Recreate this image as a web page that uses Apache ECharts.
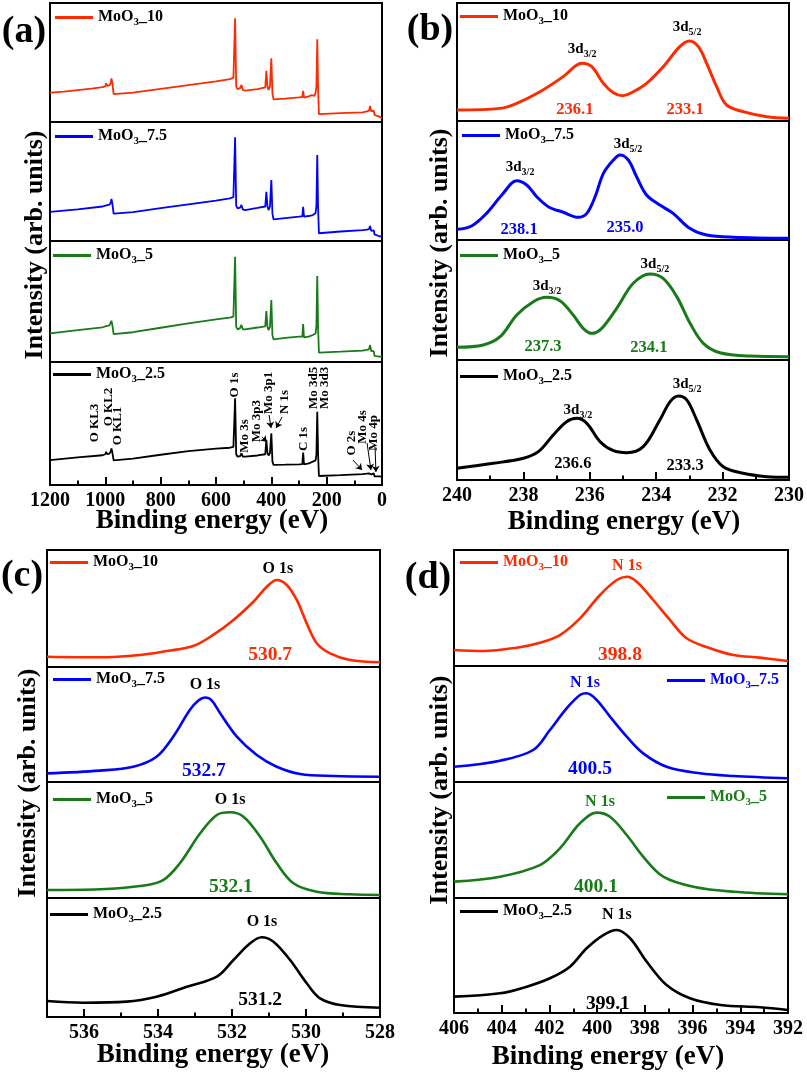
<!DOCTYPE html>
<html>
<head>
<meta charset="utf-8">
<script src="https://cdn.jsdelivr.net/npm/echarts@6/dist/echarts.min.js"></script>
<style>
    html, body { margin: 0; padding: 0; background: #fff; }
    #chart { width: 807px; height: 1072px; }
</style>
</head>
<body>
<div id="chart"></div>
<script>
    // ---- data (binding energy eV, intensity 0-100 per sub-plot) ----
    const samples = ['10', '7.5', '5', '2.5'];

    const surveyRed = [[1200,24.6],[1150,25.6],[1100,26.8],[1050,28],[1010,29.3],[1000,30],[997,32.5],[993,30.3],[985,30.8],[980,33],[978,36.7],[975,33.5],[970,23.5],[965,22.7],[900,24.6],[800,27.8],[700,31],[600,34.2],[550,36],[537,37],[531,87.1],[527,30],[522,27.5],[513,28.5],[508,31.1],[503,27],[495,26.3],[450,27.6],[422,29],[418,43.1],[414,30],[410,27],[405,30],[400,53.5],[396,24],[392,19],[350,19.6],[300,20.7],[288,21],[285,26.1],[282,20.4],[265,21.5],[255,22.5],[248,23.5],[244,22],[240,24.5],[237,30],[234,69.5],[231,28],[228,6.7],[150,7.5],[70,8.1],[55,9],[47,9.5],[43,13.4],[39,9],[35,8],[30,9.5],[27,6],[20,5.5],[10,4.5],[0,3.1]];
    const surveyBlue = [[1200,24.4],[1100,26.5],[1010,29],[1000,29.8],[997,31.1],[993,29.8],[985,30.5],[980,32.5],[978,35.3],[975,32],[970,23],[965,22.4],[900,24.3],[800,27.6],[700,30.8],[600,34],[550,35.9],[537,36.8],[531,87.1],[527,29.5],[522,27.5],[513,28],[508,30.3],[503,26.5],[495,26],[450,27.8],[422,29],[418,41.4],[414,29],[410,26],[405,29],[400,51.3],[396,23],[392,18.2],[350,19.3],[300,20.4],[288,20.8],[285,28.8],[282,20.5],[265,21],[250,21.8],[244,21],[240,23.5],[237,30],[234,72.3],[231,28],[228,6.5],[150,8],[70,9.2],[55,9.5],[47,10],[43,12.6],[39,8.5],[35,7.5],[30,9],[27,5.5],[20,5],[10,4],[0,3.6]];
    const surveyGreen = [[1200,23.7],[1100,26.3],[1010,28.7],[1000,29.5],[997,31],[993,29.5],[985,30.2],[980,31.5],[978,34.1],[975,31],[970,23],[965,22.3],[900,24.6],[800,28.3],[700,32],[600,35.3],[550,36.7],[537,37.5],[531,87],[527,29],[522,27],[513,28],[508,30.6],[503,27],[495,27],[450,28.5],[422,29.5],[418,42.1],[414,29],[410,26.4],[405,29],[400,51.2],[396,22],[392,18.7],[350,20],[300,20.9],[288,21],[285,31.4],[282,20.3],[265,21],[250,22.3],[244,21.5],[240,23.5],[237,30],[234,71],[231,28],[228,7.7],[150,8.5],[70,9.4],[55,10],[47,10.5],[43,14],[39,9],[35,8],[30,9],[27,5],[20,5],[10,4.5],[0,4.4]];
    const surveyBlack = [[1200,20.3],[1100,22.5],[1010,24.2],[1000,25],[997,27],[993,25],[985,25.5],[980,27.5],[978,29.8],[975,27],[970,20],[965,19.5],[900,21.5],[800,24.6],[700,27.5],[600,29.5],[550,30.3],[537,31],[531,70.5],[527,25],[522,23],[513,23.5],[508,25.7],[503,23],[495,23],[450,24],[422,25],[418,36.6],[414,26],[410,24],[405,26],[400,42],[396,19],[392,16.3],[350,16.5],[300,16.8],[288,17],[285,26.3],[282,16.8],[265,17.5],[250,19],[244,18.5],[240,20],[237,25],[234,59.6],[231,25],[228,7.3],[150,8],[70,8.9],[55,9.2],[47,9.5],[43,10.5],[39,8.5],[35,8],[30,9.5],[27,7],[20,7],[10,7],[0,6.8]];

    const mo3dRed = [[240,9.3],[238.7,10.7],[238.2,15],[237.5,24.8],[236.8,37.6],[236.24,48.9],[235.94,46],[235.59,31.9],[235.29,24],[235.01,21.5],[234.69,24.8],[234.29,31.9],[233.79,46],[233.29,63],[233.0,67.8],[232.73,63],[232.48,48.9],[232.18,29.1],[231.88,13.6],[231.38,7.9],[230.67,3.6],[230,2.3]];
    const mo3dBlue = [[240,9],[239.56,11.8],[239.11,22.4],[238.65,37.8],[238.2,49.8],[237.9,46.2],[237.6,36.4],[237.25,28],[236.8,23.3],[236.35,19.1],[236.09,22.4],[235.84,36.4],[235.59,56],[235.29,67.2],[235.09,71.4],[234.84,67.2],[234.59,53.2],[234.29,37.8],[233.89,29.4],[233.49,22.4],[232.99,9.8],[232.48,4.2],[231.68,2.3],[230,1.4]];
    const mo3dGreen = [[240,10.6],[239.21,12.5],[238.7,19.4],[238.2,37.5],[237.7,48.6],[237.3,52.2],[236.9,49.4],[236.5,37.5],[236.2,26.4],[235.94,22.2],[235.64,26.4],[235.19,43.1],[234.69,63.9],[234.19,71.7],[233.79,68],[233.38,52.8],[232.98,30.6],[232.58,13.9],[232.08,6.1],[231.17,3.3],[230,2.8]];
    const mo3dBlack = [[240,9.7],[238.91,13.9],[238.0,18.1],[237.55,23.6],[237.1,37.5],[236.7,48.6],[236.39,51.4],[236.09,47.2],[235.69,31.9],[235.29,24.4],[234.89,22.8],[234.39,27.8],[233.89,50],[233.58,65.3],[233.33,70],[233.08,66.7],[232.78,50],[232.38,25],[231.98,11.1],[231.38,5.6],[230.67,2.8],[230,2.2]];

    const o1sRed = [[537,8.8],[535.57,8.3],[534.49,10.3],[533.76,13.7],[533.05,17.9],[532.51,27.4],[531.96,40.2],[531.42,55.8],[531.06,68.6],[530.79,74.4],[530.52,70.1],[530.25,57.3],[529.98,37.3],[529.71,20.3],[529.35,11.7],[528.81,6],[528,4]];
    const o1sBlue = [[537,7.5],[535.57,9.9],[534.67,13.3],[534.04,22],[533.59,39.4],[533.14,62.6],[532.9,71],[532.73,73.5],[532.55,71],[532.32,59.7],[531.87,39.4],[531.33,23.5],[530.79,13.3],[530.16,7],[529.26,5.2],[528,4.6]];
    const o1sGreen = [[537,6.9],[535.57,7.5],[534.49,10.3],[533.86,15.5],[533.41,29.9],[532.86,55.8],[532.41,71.6],[532.05,73.9],[531.69,70.1],[531.24,52.8],[530.79,29.9],[530.34,12.7],[529.71,5.4],[528.81,3.2],[528,2.6]];
    const o1sBlack = [[537,13.4],[536.02,12],[534.85,12.9],[534.04,17.1],[533.22,25.5],[532.41,33.9],[531.96,47.9],[531.51,61.9],[531.2,67],[530.88,63.3],[530.43,47.9],[529.98,28.3],[529.62,15.7],[529.08,10.1],[528,7.8]];

    const n1sRed = [[406,13.8],[404.77,12.9],[403.37,15.8],[402.4,20.1],[401.56,26.7],[400.72,41.1],[399.88,61.2],[399.18,74.1],[398.76,77],[398.34,72.7],[397.65,56.9],[396.95,39.7],[396.25,23.9],[395.27,15.3],[394.29,9.5],[393.18,7.2],[392,4.3]];
    const n1sBlue = [[406,13.2],[404.07,18.4],[402.68,27.6],[401.98,44.8],[401.28,63.5],[400.72,75],[400.44,76.5],[400.02,70.7],[399.46,56.3],[398.76,39.1],[398.07,24.7],[397.09,13.2],[395.69,7.5],[394.29,5.2],[392,3.2]];
    const n1sGreen = [[406,14.1],[404.07,18.4],[402.4,28.4],[401.56,42.8],[400.72,64.4],[400.02,73.6],[399.46,70.1],[398.76,54.3],[398.07,35.6],[397.23,18.4],[395.97,9.7],[394.29,5.4],[392,3.2]];
    const n1sBlack = [[406,14.2],[404.07,17.1],[402.95,22.9],[401.98,30.2],[401.14,40.3],[400.44,56.3],[399.74,67.8],[399.18,72.2],[398.62,65],[397.92,44.6],[397.09,24.3],[396.11,12.8],[394.83,7],[393.18,5],[392,2.6]];

    // peak tags [sample, eV, intensity, text]
    const surveyTags = [['O KL3',1037,50.4],['O KL2',987,63.4],['O KL1',954,48],['O 1s',531,81.3],['Mo 3s',495,39.8],['Mo 3p3',452,52],['Mo 3p1',408,74.8],['N 1s',351,67.5],['C 1s',282,37.4],['Mo 3d5',246,78.9],['Mo 3d3',206,78.9],['O 2s',108,34.1],['Mo 4s',69,47.2],['Mo 4p',29,42.3]];
    const surveyArrows = [[[434,39],[416,35]],[[408,56.9],[401,46.3]],[[361,55.3],[383,46.3]],[[105,20.3],[72,12.2]],[[54,34.1],[40,12.2]],[[25,30.9],[22,10.6]]];
    const mo3dTags = [
        [0,236.23,60.2,'3d3/2'],[0,233.07,78.8,'3d5/2'],[0,236.45,9.3,'236.1'],[0,233.13,9.3,'233.1'],
        [1,238.10,60.5,'3d3/2'],[1,234.85,79.8,'3d5/2'],[1,238.13,8.4,'238.1'],[1,234.94,10.1,'235.0'],
        [2,237.29,60.8,'3d3/2'],[2,234.04,79.2,'3d5/2'],[2,237.41,10.8,'237.3'],[2,234.22,10,'234.1'],
        [3,236.36,57.5,'3d3/2'],[3,233.07,79.2,'3d5/2'],[3,236.51,13.3,'236.6'],[3,233.13,11.7,'233.3']
    ];
    const o1sTags = [[0,530.76,83.8,'O 1s'],[0,530.97,10.3,'530.7'],[1,532.73,84.3,'O 1s'],[1,532.76,9.6,'532.7'],[2,532.05,84.5,'O 1s'],[2,532.03,9.5,'532.1'],[3,531.19,79.8,'O 1s'],[3,531.24,14.3,'531.2']];
    const n1sTags = [[0,398.75,86.2,'N 1s'],[0,399.04,9.5,'398.8'],[1,400.51,85.3,'N 1s'],[1,400.30,11.2,'400.5'],[2,399.88,82.8,'N 1s'],[2,400.05,9.5,'400.1'],[3,399.17,85.2,'N 1s'],[3,399.55,7.8,'399.1']];

    // ---- layout ----
    const FONT = "'Liberation Serif', 'Times New Roman', serif";
    const colors = ['#ff2a00', '#0000ff', '#187a18', '#000000'];
    const panels = [
        {key: 'a', left: 50, width: 332, tops: [3, 122, 241, 362, 485], min: 0, max: 1200, interval: 200, lw: 1.8, smooth: false,
            data: [surveyRed, surveyBlue, surveyGreen, surveyBlack],
            legend: [[55, 18], [55, 137], [53, 256], [53, 375]], legendColored: false},
        {key: 'b', left: 457, width: 332, tops: [3, 121, 240, 360, 480], min: 230, max: 240, interval: 2, lw: 3, smooth: 0.35,
            data: [mo3dRed, mo3dBlue, mo3dGreen, mo3dBlack],
            legend: [[460, 17], [462, 136], [460, 256], [460, 377]], legendColored: false},
        {key: 'c', left: 47, width: 333, tops: [550, 667, 782, 898, 1017], min: 528, max: 537, interval: 2, lw: 2.6, smooth: 0.35,
            data: [o1sRed, o1sBlue, o1sGreen, o1sBlack],
            legend: [[50, 563], [53, 680], [53, 800], [50, 915]], legendColored: false},
        {key: 'd', left: 454, width: 334, tops: [550, 666, 782, 898, 1013], min: 392, max: 406, interval: 2, lw: 2.6, smooth: 0.35,
            data: [n1sRed, n1sBlue, n1sGreen, n1sBlack],
            legend: [[460, 563], [667, 681], [667, 798], [460, 912]], legendColored: true}
    ];

    const grids = [], xAxes = [], yAxes = [], series = [], legends = [];
    panels.forEach((p, pi) => {
        for (let s = 0; s < 4; s++) {
            const g = pi * 4 + s;
            const bottom = s === 3;
            grids.push({left: p.left, top: p.tops[s], width: p.width, height: p.tops[s + 1] - p.tops[s],
                show: true, borderColor: '#000', borderWidth: 2, backgroundColor: 'transparent'});
            xAxes.push({
                gridIndex: g, type: 'value', position: 'bottom', min: p.min, max: p.max, interval: p.interval, inverse: true,
                axisLine: {show: bottom, onZero: false, lineStyle: {color: '#000', width: 2}},
                splitLine: {show: false},
                axisTick: {show: bottom, inside: true, length: 8, lineStyle: {color: '#000', width: 2}},
                minorTick: {show: bottom, splitNumber: 2, length: 4.5, lineStyle: {color: '#000', width: 2}},
                axisLabel: {show: bottom, margin: 6, color: '#000', fontFamily: FONT, fontWeight: 'bold', fontSize: 20,
                    formatter: v => (v % p.interval === 0 ? String(v) : '')}
            });
            yAxes.push({gridIndex: g, type: 'value', min: 0, max: 100, show: false});
            const name = 'MoO3_' + samples[s] + '#' + p.key;
            const ser = {
                name, type: 'line', xAxisIndex: g, yAxisIndex: g, data: p.data[s],
                showSymbol: false, symbol: 'none', smooth: p.smooth, silent: true,
                lineStyle: {color: colors[s], width: p.lw}, itemStyle: {color: colors[s]}
            };
            if (p.key === 'a' && bottom) {
                ser.markLine = {
                    silent: true, symbol: ['none', 'arrow'], symbolSize: 6, animation: false,
                    lineStyle: {color: '#000', width: 1, type: 'solid'}, label: {show: false},
                    data: surveyArrows.map(a => [{coord: a[0]}, {coord: a[1]}])
                };
            }
            series.push(ser);
            const tc = p.legendColored ? colors[s] : '#000';
            const pos = p.legend[s];
            legends.push({
                data: [name], left: pos[0], top: pos[1] - 9.5, padding: 0, icon: 'rect',
                itemWidth: 38, itemHeight: 3, selectedMode: false,
                formatter: () => `{b|MoO}{s|3}{b|_${samples[s]}}`,
                textStyle: {color: tc, rich: {
                    b: {color: tc, fontFamily: FONT, fontWeight: 'bold', fontSize: 16, lineHeight: 18, verticalAlign: 'top'},
                    s: {color: tc, fontFamily: FONT, fontWeight: 'bold', fontSize: 11, lineHeight: 11, padding: [8, 0, 0, 0], verticalAlign: 'top'}
                }}
            });
        }
    });

    const chart = echarts.init(document.getElementById('chart'));
    chart.setOption({
        animation: false,
        backgroundColor: '#fff',
        grid: grids, xAxis: xAxes, yAxis: yAxes, series, legend: legends
    });

    // ---- text annotations ----
    const px = (g, x, y) => chart.convertToPixel({gridIndex: g}, [x, y]);
    const graphic = [];
    const plain = (x, y, text, size, color, rot) => graphic.push({
        type: 'text', x, y, rotation: rot || 0, z: 50,
        style: {text, fill: color, font: `bold ${size}px ${FONT}`, align: 'center', verticalAlign: 'middle'}
    });
    const subText = (x, y, main, sub, size, color) => graphic.push({
        type: 'text', x, y, z: 50,
        style: {text: `{b|${main}}{s|${sub}}`, align: 'center', verticalAlign: 'middle', rich: {
            b: {fill: color, fontFamily: FONT, fontWeight: 'bold', fontSize: size, lineHeight: size + 2, verticalAlign: 'top'},
            s: {fill: color, fontFamily: FONT, fontWeight: 'bold', fontSize: Math.round(size * 0.68), lineHeight: Math.round(size * 0.68), padding: [Math.round(size * 0.55), 0, 0, 0], verticalAlign: 'top'}
        }}
    });

    [['(a)', 24, 32], ['(b)', 430, 30], ['(c)', 22, 576], ['(d)', 428, 578]].forEach(t => plain(t[1], t[2], t[0], 38, '#000'));
    [[35, 245], [440, 243], [28, 783], [440, 790]].forEach(t => plain(t[0], t[1], 'Intensity (arb. units)', 26, '#000', Math.PI / 2));
    [[212, 521], [624, 522], [213, 1055], [608, 1057]].forEach(t => plain(t[0], t[1], 'Binding energy (eV)', 27, '#000'));

    surveyTags.forEach(t => {
        const p = px(3, t[1], t[2]);
        plain(p[0], p[1], t[0], 13, '#000', Math.PI / 2);
    });
    mo3dTags.forEach(t => {
        const p = px(4 + t[0], t[1], t[2]);
        if (t[3].startsWith('3d')) subText(p[0], p[1], '3d', t[3].slice(2), 15, '#000');
        else plain(p[0], p[1], t[3], 16.5, colors[t[0]]);
    });
    o1sTags.forEach(t => {
        const p = px(8 + t[0], t[1], t[2]);
        if (t[3] === 'O 1s') plain(p[0], p[1], t[3], 16, '#000');
        else plain(p[0], p[1], t[3], 19.5, colors[t[0]]);
    });
    n1sTags.forEach(t => {
        const p = px(12 + t[0], t[1], t[2]);
        plain(p[0], p[1], t[3], t[3] === 'N 1s' ? 16 : 19.5, colors[t[0]]);
    });

    chart.setOption({graphic});
</script>
</body>
</html>
